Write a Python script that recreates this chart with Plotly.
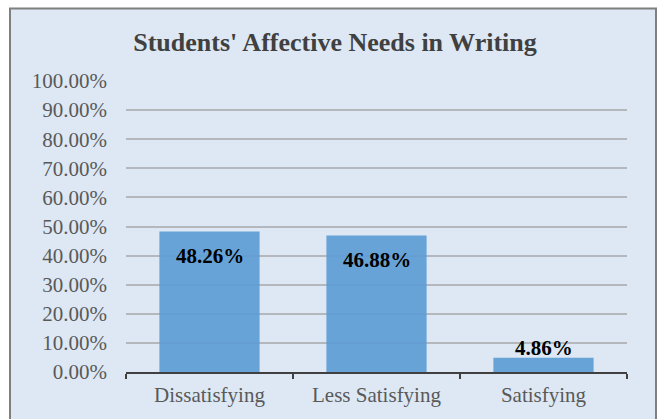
import plotly.graph_objects as go

categories = ["Dissatisfying", "Less Satisfying", "Satisfying"]
values = [0.4826, 0.4688, 0.0486]
y_ticks = [i / 10 for i in range(11)]

SERIF = "Liberation Serif, Times New Roman, serif"

fig = go.Figure()
fig.add_trace(go.Bar(
    x=categories, y=values,
    marker=dict(color="rgba(91,155,213,0.9)", line=dict(width=0)),
    width=0.6, hoverinfo="skip",
))

# data labels
for c, v in zip(categories, values):
    inside = v > 0.2
    fig.add_annotation(
        x=c, y=v, xref="x", yref="y",
        text="<b>%.2f%%</b>" % (v * 100),
        showarrow=False,
        yanchor="top" if inside else "bottom",
        yshift=-10 if inside else -4,
        font=dict(family=SERIF, size=21, color="#000000"),
    )

# chart frame
W, H = 659, 419
L, R, T, B = 126, 32, 81, 45
pw, ph = W - L - R, H - T - B
def px_x(x): return (x - L) / pw
def px_y(y): return (H - B - y) / ph
fig.add_shape(type="rect", xref="paper", yref="paper",
              x0=px_x(10), x1=px_x(656), y0=px_y(430), y1=px_y(8),
              fillcolor="#dde8f4", line=dict(color="#7f7f7f", width=2),
              layer="below")

fig.update_layout(
    width=W, height=H,
    margin=dict(l=L, r=R, t=T, b=B),
    paper_bgcolor="white",
    plot_bgcolor="rgba(0,0,0,0)",
    showlegend=False,
    title=dict(text="<b>Students' Affective Needs in Writing</b>",
               x=335 / W, xref="container", xanchor="center",
               y=1 - 42 / H, yref="container", yanchor="middle",
               font=dict(family=SERIF, size=26, color="#404040")),
    bargap=0.4,
)
fig.update_xaxes(
    showline=True, linecolor="#404040", linewidth=2,
    ticks="outside", tickson="boundaries", ticklen=5, tickwidth=2, tickcolor="#404040",
    tickfont=dict(family=SERIF, size=21, color="#595959"),
    ticklabelstandoff=3,
    showgrid=False,
)
fig.update_yaxes(
    range=[0, 1.0], tickvals=y_ticks, tickformat=".2%",
    showgrid=True, gridcolor="#b4b8bc", gridwidth=1.5,
    zeroline=False, showline=False, ticks="",
    ticklabelstandoff=18,
    tickfont=dict(family=SERIF, size=21, color="#595959"),
)

fig.write_html("out.html")
